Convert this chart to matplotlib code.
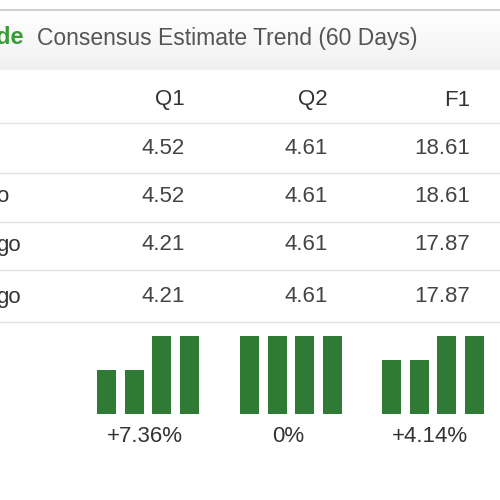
import matplotlib
matplotlib.use("Agg")
import matplotlib.pyplot as plt
from matplotlib.patches import Rectangle

columns = ["Q1", "Q2", "F1"]
row_labels = ["", "o", "go", "go"]
current = [4.52, 4.61, 18.61]
days7 = [4.52, 4.61, 18.61]
days30 = [4.21, 4.61, 17.87]
days60 = [4.21, 4.61, 17.87]
rows = [current, days7, days30, days60]
changes = ["+7.36%", "0%", "+4.14%"]
bar_floor = [3.80, 0.0, 16.16]

FS = 16
fig = plt.figure(figsize=(5, 5), dpi=100)
ax = fig.add_axes([0, 0, 1, 1])
ax.set_xlim(0, 500); ax.set_ylim(500, 0); ax.axis("off")

for i in range(60):
    g = 1.0 - 0.06 * (i / 60)
    ax.add_patch(Rectangle((0, 10 + i), 500, 1, color=(g, g, g), lw=0))
ax.plot([0, 500], [10, 10], color="#d0d0d0", lw=1.5)
ax.text(-4, 38, "de", color="#3a9a3a", fontsize=17, fontweight="bold", va="center", family="Liberation Sans")
ax.text(37, 38, "Consensus Estimate Trend (60 Days)", color="#555555", fontsize=16.5, va="center", family="Liberation Sans")

col_x = [185, 328, 470]
for c in range(3):
    ax.text(col_x[c], 100, columns[c], ha="right", va="center", fontsize=FS, color="#333", family="Liberation Sans")
ax.plot([0, 500], [123, 123], color="#e2e2e2", lw=1)

row_y = [148, 197, 245, 297]
for r, (lab, vals) in enumerate(zip(row_labels, rows)):
    y = row_y[r]
    ax.text(-4, y, lab, ha="left", va="center", fontsize=FS, color="#333", family="Liberation Sans")
    for c, v in enumerate(vals):
        ax.text(col_x[c], y, f"{v:.2f}", ha="right", va="center", fontsize=FS, color="#444", family="Liberation Sans")
    ax.plot([0, 500], [y + 25, y + 25], color="#e2e2e2", lw=1)

group_left = [93, 236, 378]
for c in range(3):
    vals = [days60[c], days30[c], days7[c], current[c]]
    bx = fig.add_axes([group_left[c] / 500, (500 - 414) / 500, 110 / 500, 78 / 500])
    bx.bar(range(4), vals, width=0.68, color="#2f7a35", bottom=0)
    bx.set_xlim(-0.5, 3.5)
    bx.set_ylim(bar_floor[c], max(vals))
    bx.axis("off")
    ax.text(group_left[c] + 52, 437, changes[c], ha="center", va="center", fontsize=FS, color="#333", family="Liberation Sans")

fig.savefig("out.png", dpi=100)
